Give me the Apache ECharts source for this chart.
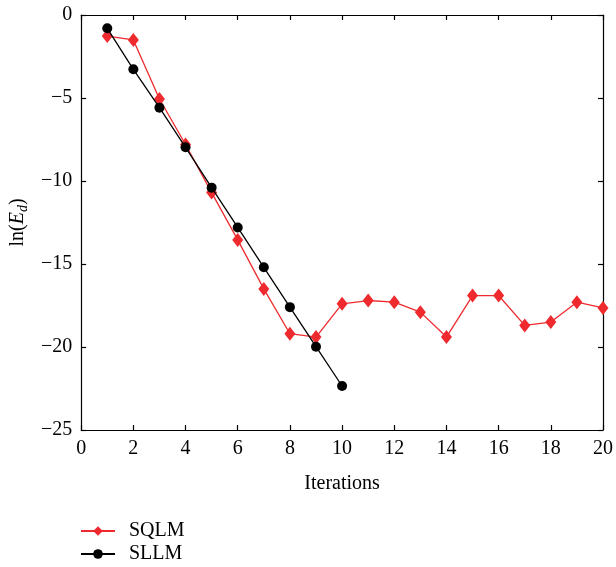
<!DOCTYPE html>
<html>
<head>
<meta charset="utf-8">
<script src="https://cdn.jsdelivr.net/npm/echarts@6/dist/echarts.min.js"></script>
<style>html,body{margin:0;padding:0;background:#fff;}#c{width:616px;height:567px;}</style>
</head>
<body>
<div id="c"></div>
<script>
var iterSQLM = [1,2,3,4,5,6,7,8,9,10,11,12,13,14,15,16,17,18,19,20];
var valSQLM = [-1.27,-1.5,-5.06,-7.8,-10.7,-13.55,-16.5,-19.2,-19.4,-17.4,-17.2,-17.3,-17.9,-19.4,-16.9,-16.9,-18.7,-18.5,-17.3,-17.65];
var iterSLLM = [1,2,3,4,5,6,7,8,9,10];
var valSLLM = [-0.8,-3.27,-5.58,-7.97,-10.4,-12.8,-15.2,-17.6,-19.98,-22.35];
var xTicks = [0,2,4,6,8,10,12,14,16,18,20];
var yTicks = [0,-5,-10,-15,-20,-25];

function pairs(xs, ys){ return xs.map(function(x,i){return [x, ys[i]];}); }
function aLine(){ return {show:true, onZero:false, lineStyle:{color:'#000', width:1.2}}; }
function aTick(){ return {show:true, inside:true, length:5, lineStyle:{color:'#000', width:1.2}}; }

var font = 'Liberation Serif';
var fs = 20;
var chart = echarts.init(document.getElementById('c'));
chart.setOption({
  animation:false,
  backgroundColor:'#fff',
  textStyle:{fontFamily:font},
  grid:{left:80, right:12, top:15, bottom:137, containLabel:false},
  xAxis:[{
    type:'value', position:'bottom', min:xTicks[0], max:xTicks[xTicks.length-1], interval:2,
    axisLine:aLine(), axisTick:aTick(), splitLine:{show:false},
    axisLabel:{color:'#000', fontSize:fs, fontFamily:font, margin:9},
    name:'Iterations', nameLocation:'middle', nameGap:44,
    nameTextStyle:{color:'#000', fontSize:fs, fontFamily:font}
  },{
    type:'value', position:'top', min:0, max:20, interval:2,
    axisLine:aLine(), axisTick:aTick(), axisLabel:{show:false}, splitLine:{show:false}
  }],
  yAxis:[{
    type:'value', position:'left', min:yTicks[yTicks.length-1], max:yTicks[0], interval:5,
    axisLine:aLine(), axisTick:aTick(), splitLine:{show:false},
    axisLabel:{color:'#000', fontSize:fs, fontFamily:font, margin:9,
      formatter:function(v){ return v<0 ? '\u2212'+Math.abs(v) : String(v); }},
    name:'{n|ln(}{e|E}{s|d}{n|)}', nameLocation:'middle', nameGap:50, nameRotate:90,
    nameTextStyle:{color:'#000', fontFamily:font,
      rich:{
        n:{fontSize:fs, fontFamily:font, color:'#000', lineHeight:24, verticalAlign:'middle'},
        e:{fontSize:fs, fontFamily:font, fontStyle:'italic', color:'#000', lineHeight:24, verticalAlign:'middle'},
        s:{fontSize:14, fontFamily:font, fontStyle:'italic', color:'#000', lineHeight:24, verticalAlign:'bottom', padding:[7,0,0,0]}
      }}
  },{
    type:'value', position:'right', min:-25, max:0, interval:5,
    axisLine:aLine(), axisTick:aTick(), axisLabel:{show:false}, splitLine:{show:false}
  }],
  legend:{
    orient:'vertical', left:80, top:521, padding:0, itemWidth:34, itemHeight:12, itemGap:3,
    height:60,
    textStyle:{color:'#000', fontSize:fs, fontFamily:font, lineHeight:20, padding:[0,0,0,9]},
    data:['SQLM','SLLM']
  },
  series:[{
    name:'SQLM', type:'line', data:pairs(iterSQLM, valSQLM),
    symbol:'diamond', symbolSize:[11,14],
    itemStyle:{color:'#ee2a2e'}, lineStyle:{color:'#ee2a2e', width:1.3}, z:2
  },{
    name:'SLLM', type:'line', data:pairs(iterSLLM, valSLLM),
    symbol:'circle', symbolSize:10,
    itemStyle:{color:'#000'}, lineStyle:{color:'#000', width:1.3}, z:3
  }]
});
</script>
</body>
</html>
